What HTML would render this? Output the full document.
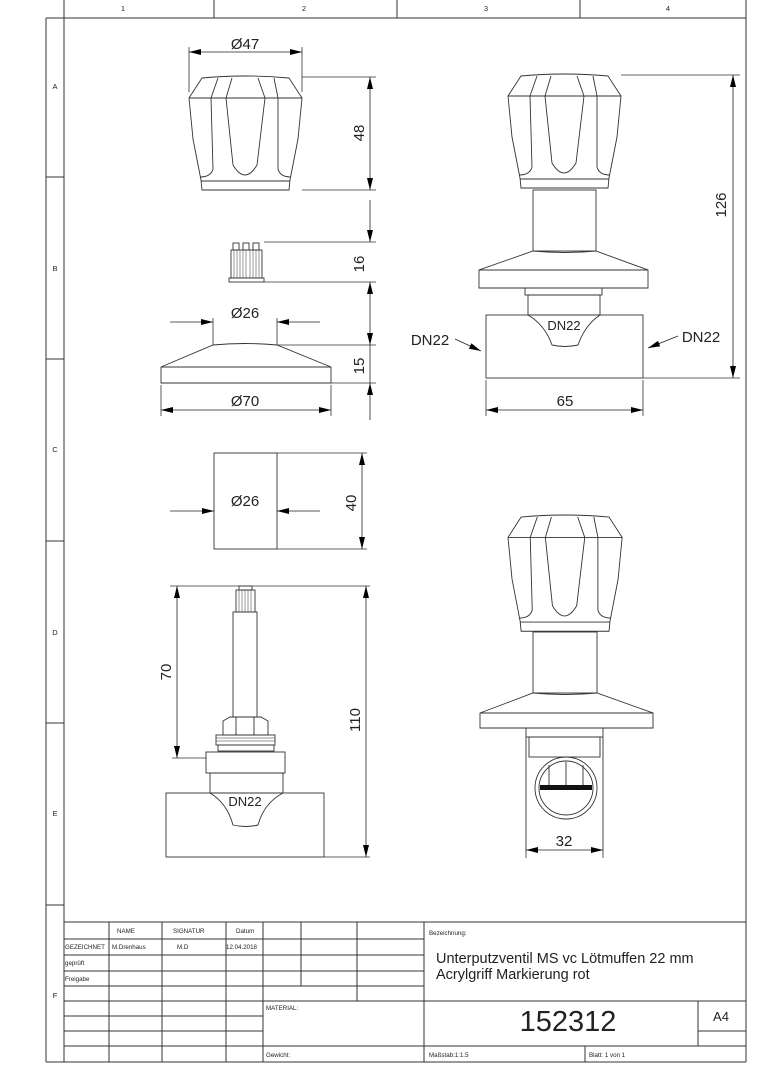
<!DOCTYPE html>
<html><head><meta charset="utf-8"><style>
html,body{margin:0;padding:0;background:#fff;}
svg{display:block;font-family:"Liberation Sans",sans-serif;}
</style></head><body>
<svg width="764" height="1080" viewBox="0 0 764 1080" xmlns="http://www.w3.org/2000/svg">
<defs>
<marker id="a" viewBox="0 0 12 6" refX="12" refY="3" markerWidth="12" markerHeight="6" orient="auto-start-reverse" markerUnits="userSpaceOnUse"><path d="M0,0L12,3L0,6z" fill="#000"/></marker>
<g id="knob" fill="none" stroke="#333" stroke-width="0.9">
<path d="M13,1 L0,21 L4,62 L12,103 L13,113 L100,113 L101,103 L109,62 L113,21 L100,1 Q56,-3 13,1 Z"/>
<line x1="0" y1="21" x2="113" y2="21"/>
<line x1="12" y1="104" x2="101" y2="104"/>
<path d="M29,1 L22,21 M43,1 L37,21 M69,1 L76,21 M85,1 L89,21"/>
<path d="M22,21 L24,92 Q22,100 11,100"/>
<path d="M37,21 L44,88 Q56,108 68,88 L76,21"/>
<path d="M89,21 L89,92 Q91,100 102,100"/>
</g>
</defs>
<g stroke="#333" stroke-width="1" fill="none">
<!-- frame -->
<line x1="64" y1="0" x2="64" y2="1062"/>
<line x1="746" y1="0" x2="746" y2="1062"/>
<line x1="46" y1="18" x2="746" y2="18"/>
<line x1="46" y1="18" x2="46" y2="1062"/>
<line x1="46" y1="1062" x2="746" y2="1062"/>
<path d="M214,0V18M397,0V18M580,0V18"/>
<path d="M46,177H64M46,359H64M46,541H64M46,723H64M46,905H64"/>
<!-- title block -->
<line x1="64" y1="922" x2="746" y2="922"/>
<path d="M64,939H424M64,955H424M64,971H424M64,986H424"/>
<path d="M64,1001H746M64,1016H263M64,1031H263M64,1046H746M698,1031H746"/>
<path d="M109,922V1062M162,922V1062M226,922V1062M263,922V1062M301,922V986M357,922V1001M424,922V1062M585,1046V1062M698,1001V1046"/>
</g>
<g font-size="7.5" fill="#222" text-anchor="middle">
<text x="123" y="11">1</text><text x="304" y="11">2</text><text x="486" y="11">3</text><text x="668" y="11">4</text>
<text x="55" y="89">A</text><text x="55" y="271">B</text><text x="55" y="452">C</text><text x="55" y="635">D</text><text x="55" y="816">E</text><text x="55" y="998">F</text>
</g>
<g font-size="6.2" fill="#222">
<text x="117" y="933">NAME</text><text x="173" y="933">SIGNATUR</text><text x="236" y="933">Datum</text>
<text x="65" y="949">GEZEICHNET</text><text x="112" y="949">M.Drenhaus</text><text x="177" y="949">M.D</text><text x="226" y="949">12.04.2018</text>
<text x="65" y="965">geprüft</text><text x="65" y="981">Freigabe</text>
<text x="266" y="1010">MATERIAL:</text><text x="266" y="1057">Gewicht:</text>
<text x="429" y="935">Bezeichnung:</text><text x="429" y="1057">Maßstab:1:1.5</text><text x="589" y="1057">Blatt: 1 von 1</text>
</g>
<text x="436" y="963" font-size="14.5" fill="#222">Unterputzventil MS vc Lötmuffen 22 mm</text>
<text x="436" y="979" font-size="14.5" fill="#222">Acrylgriff Markierung rot</text>
<text x="568" y="1031" font-size="29" fill="#222" text-anchor="middle">152312</text>
<text x="721" y="1021" font-size="13" fill="#222" text-anchor="middle">A4</text>

<!-- knobs -->
<use href="#knob" x="189" y="77"/>
<use href="#knob" x="508" y="75"/>
<use href="#knob" transform="translate(508,516) scale(1.01,1.02)"/>

<g stroke="#333" stroke-width="0.9" fill="none">
<!-- small part 16 -->
<rect x="233" y="243" width="6" height="7"/><rect x="243" y="243" width="6" height="7"/><rect x="253" y="243" width="6" height="7"/>
<rect x="231" y="250" width="31" height="28"/>
<path d="M234,250V278M237,250V278M240,250V278M243,250V278M246,250V278M250,250V278M253,250V278M256,250V278M259,250V278" stroke-width="0.5"/>
<rect x="229" y="278" width="35" height="4"/>
<!-- left flange -->
<path d="M213,345 Q245,342 277,345 L331,367 L331,383 L161,383 L161,367 Z M161,367H331"/>
<!-- cylinder -->
<rect x="214" y="453" width="63" height="96"/>
<!-- right top view -->
<rect x="533" y="190" width="63" height="61"/>
<path d="M533,251 Q565,254 596,251 L648,270 L648,288 L479,288 L479,270 Z M479,270H648"/>
<rect x="525" y="288" width="77" height="7"/>
<rect x="528" y="295" width="72" height="20"/>
<rect x="486" y="315" width="157" height="63"/>
<path d="M528,315 Q545,325 552,345 Q565,348 578,345 Q585,325 600,315"/>
<!-- bottom right -->
<rect x="533" y="632" width="64" height="61"/>
<path d="M533,693 Q565,696 597,693 L653,713 L653,728 L480,728 L480,713 Z M480,713H653"/>
<rect x="526" y="728" width="77" height="9"/>
<rect x="529" y="737" width="71" height="20"/>
<path d="M526,737V850M603,737V850"/>
<circle cx="566" cy="788" r="31"/><circle cx="566" cy="788" r="27"/>
<path d="M549,765V785M566,762V785M583,765V785"/>
<!-- cartridge -->
<rect x="239" y="586" width="13" height="4"/>
<rect x="236" y="590" width="19" height="22"/>
<path d="M239,590V612M242,590V612M245,590V612M248,590V612M251,590V612" stroke-width="0.5"/>
<rect x="233" y="612" width="24" height="105"/>
<path d="M230,717 L223,721 V735 H268 V721 L261,717 Z M236,717V735M254,717V735"/>
<rect x="216" y="735" width="59" height="10"/>
<path d="M216,738H275M216,741H275" stroke-width="0.5"/>
<rect x="218" y="745" width="56" height="6"/>
<rect x="206" y="752" width="79" height="21"/>
<rect x="210" y="773" width="73" height="20"/>
<rect x="166" y="793" width="158" height="64"/>
<path d="M210,793 Q227,803 233,825 Q245,828 258,825 Q264,803 283,793"/>
</g>
<rect x="540" y="785" width="52" height="5" fill="#111"/>

<g stroke="#333" stroke-width="0.8" fill="none">
<!-- ext lines -->
<path d="M189,47V92M302,47V92"/>
<path d="M302,77H376M302,190H376M264,242H376M264,282H376M277,345H376M331,383H376"/>
<path d="M213,318V345M277,318V345M161,385V416M331,385V416"/>
<path d="M277,453H367M277,549H367"/>
<path d="M621,75H740M643,378H740M486,380V416M643,380V416"/>
<path d="M170,586H370M172,758H206M324,857H370"/>
<path d="M526,850V858M603,850V858"/>
</g>
<g stroke="#222" stroke-width="0.8" fill="none">
<line x1="189" y1="52" x2="302" y2="52" marker-start="url(#a)" marker-end="url(#a)"/>
<line x1="370" y1="77" x2="370" y2="190" marker-start="url(#a)" marker-end="url(#a)"/>
<line x1="370" y1="200" x2="370" y2="242" marker-end="url(#a)"/>
<line x1="370" y1="282" x2="370" y2="345" marker-start="url(#a)" marker-end="url(#a)"/>
<line x1="370" y1="345" x2="370" y2="383" />
<line x1="370" y1="420" x2="370" y2="383" marker-end="url(#a)"/>
<line x1="170" y1="322" x2="213" y2="322" marker-end="url(#a)"/>
<line x1="320" y1="322" x2="277" y2="322" marker-end="url(#a)"/>
<line x1="161" y1="410" x2="331" y2="410" marker-start="url(#a)" marker-end="url(#a)"/>
<line x1="170" y1="511" x2="214" y2="511" marker-end="url(#a)"/>
<line x1="320" y1="511" x2="277" y2="511" marker-end="url(#a)"/>
<line x1="362" y1="453" x2="362" y2="549" marker-start="url(#a)" marker-end="url(#a)"/>
<line x1="733" y1="75" x2="733" y2="378" marker-start="url(#a)" marker-end="url(#a)"/>
<line x1="486" y1="410" x2="643" y2="410" marker-start="url(#a)" marker-end="url(#a)"/>
<line x1="177" y1="586" x2="177" y2="758" marker-start="url(#a)" marker-end="url(#a)"/>
<line x1="366" y1="586" x2="366" y2="857" marker-start="url(#a)" marker-end="url(#a)"/>
<line x1="526" y1="850" x2="603" y2="850" marker-start="url(#a)" marker-end="url(#a)"/>
<line x1="455" y1="339" x2="481" y2="351" marker-end="url(#a)"/>
<line x1="678" y1="336" x2="648" y2="348" marker-end="url(#a)"/>
</g>
<g font-size="15" fill="#222" text-anchor="middle">
<text x="245" y="49">Ø47</text>
<text x="245" y="318">Ø26</text>
<text x="245" y="406">Ø70</text>
<text x="245" y="506">Ø26</text>
<text x="565" y="406">65</text>
<text x="564" y="846">32</text>
<text x="430" y="345">DN22</text>
<text x="701" y="342">DN22</text>
<text x="564" y="330" font-size="13">DN22</text>
<text x="245" y="806" font-size="13">DN22</text>
<text transform="translate(364,133) rotate(-90)">48</text>
<text transform="translate(364,264) rotate(-90)">16</text>
<text transform="translate(364,366) rotate(-90)">15</text>
<text transform="translate(356,503) rotate(-90)">40</text>
<text transform="translate(726,205) rotate(-90)">126</text>
<text transform="translate(171,672) rotate(-90)">70</text>
<text transform="translate(360,720) rotate(-90)">110</text>
</g>
</svg>
</body></html>
